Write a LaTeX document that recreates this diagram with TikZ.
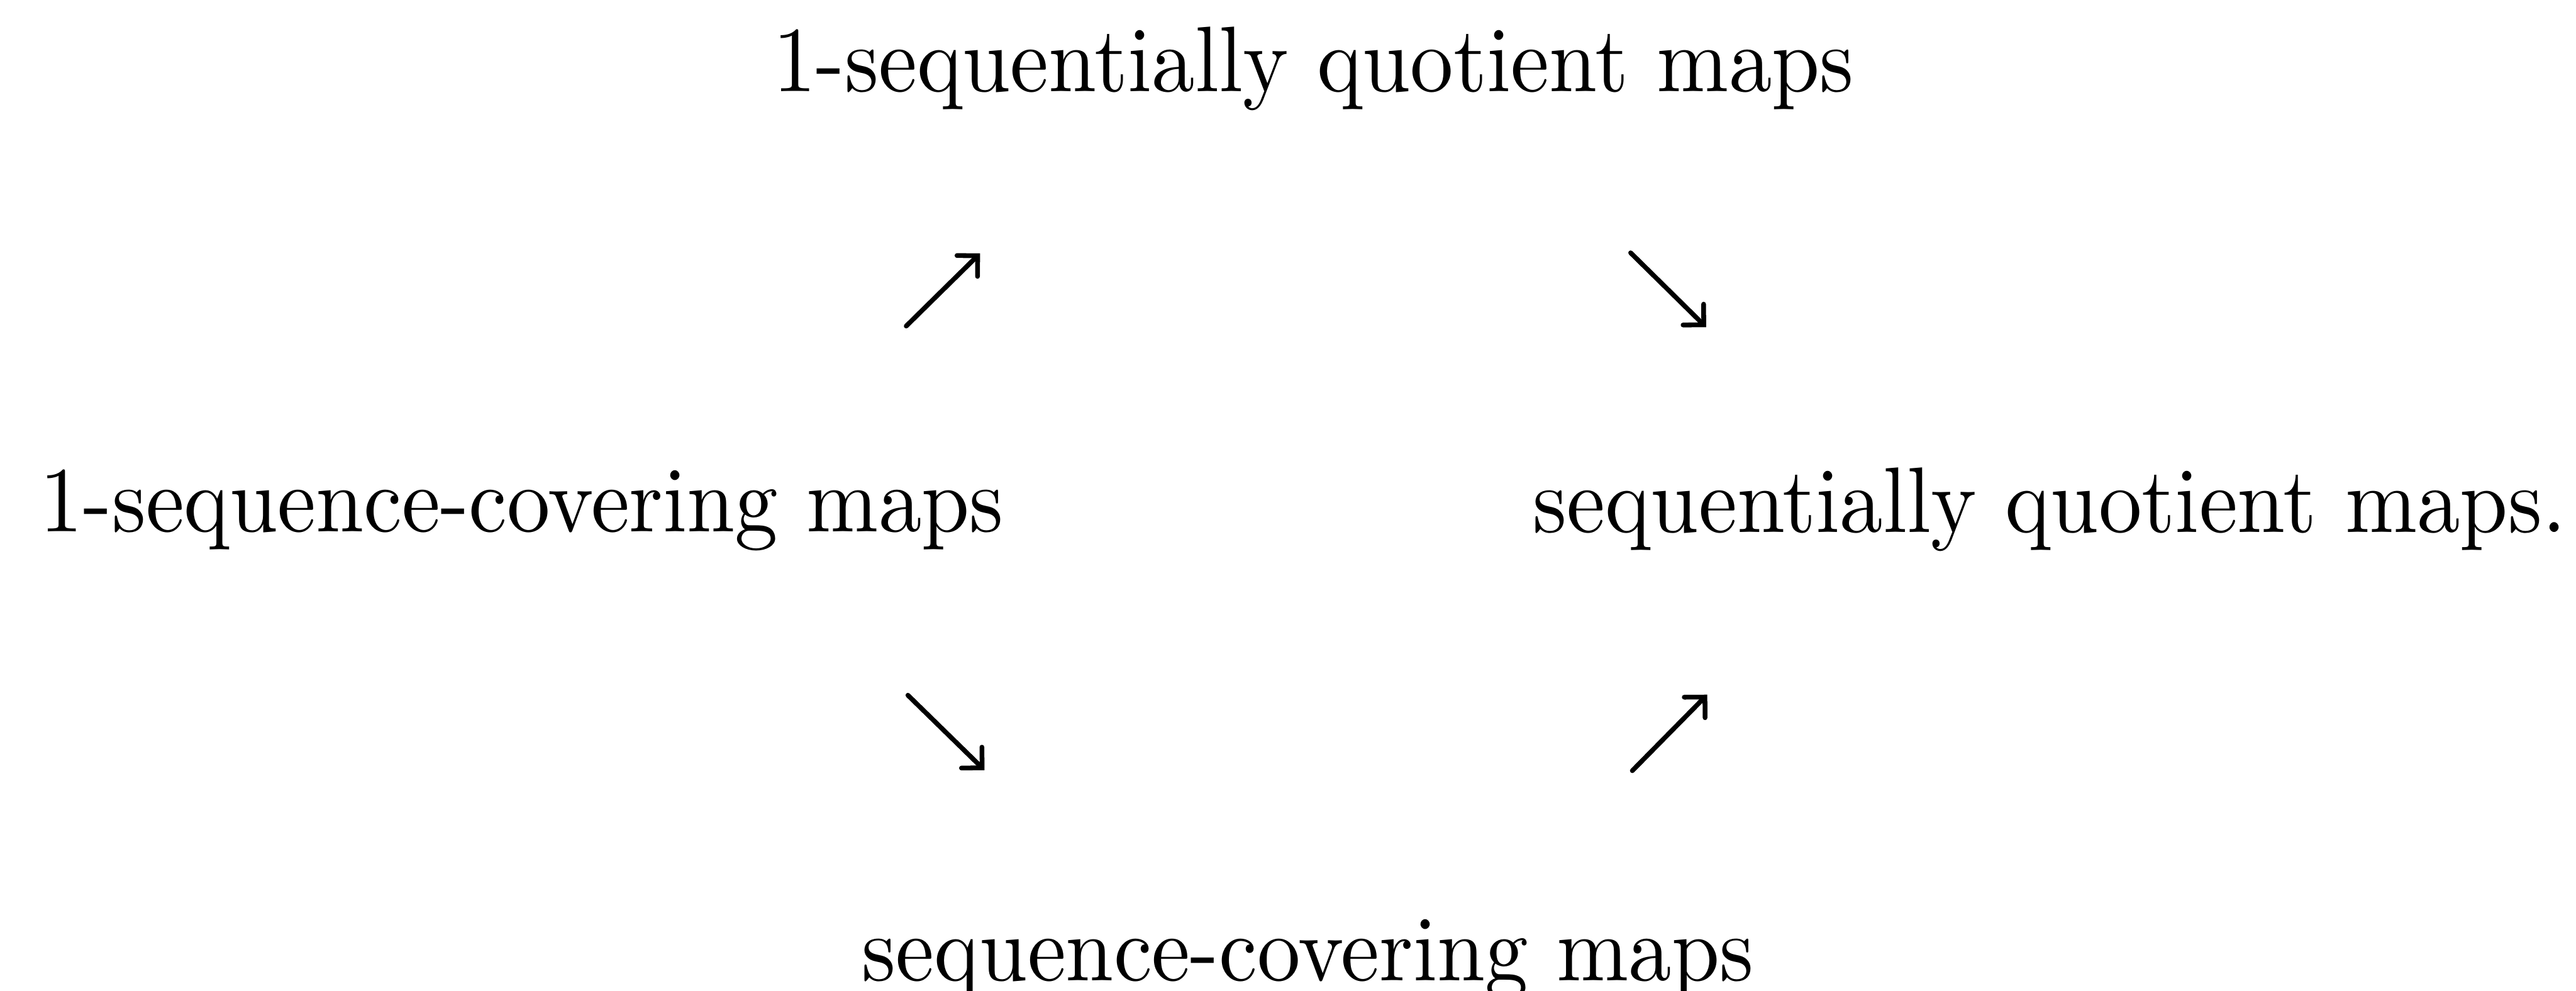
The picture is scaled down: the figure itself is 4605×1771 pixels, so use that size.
\documentclass[tikz,border=0pt]{standalone}
\usepackage{graphicx}
\usetikzlibrary{arrows.meta}
\begin{document}
\begin{tikzpicture}[x=0.0649pt,y=-0.0649pt,
  lbl/.style={anchor=base,inner sep=0pt,outer sep=0pt},
  imp/.style={line width=0.55pt,line cap=round,-{Straight Barb[angle=90:2.4pt,line cap=round]}}]
\useasboundingbox (0,0) rectangle (4605,1771);
\node[lbl] (top)    at (2348,164)  {\scalebox{1}[1.08]{1-sequentially quotient maps}};
\node[lbl] (left)   at (933,951)   {\scalebox{1}[1.08]{1-sequence-covering maps}};
\node[lbl] (right)  at (3664,952)  {\scalebox{1}[1.08]{sequentially quotient maps.}};
\node[lbl] (bottom) at (2338,1753) {\scalebox{1}[1.08]{sequence-covering maps}};
\coordinate (a1s) at (1620,583);  \coordinate (a1e) at (1752,453);
\coordinate (a2s) at (2915,452);  \coordinate (a2e) at (3050,585);
\coordinate (a3s) at (1623,1243); \coordinate (a3e) at (1760,1377);
\coordinate (a4s) at (2918,1378); \coordinate (a4e) at (3052,1242);
\draw[imp] (a1s) -- (a1e);
\draw[imp] (a2s) -- (a2e);
\draw[imp] (a3s) -- (a3e);
\draw[imp] (a4s) -- (a4e);
\end{tikzpicture}
\end{document}
